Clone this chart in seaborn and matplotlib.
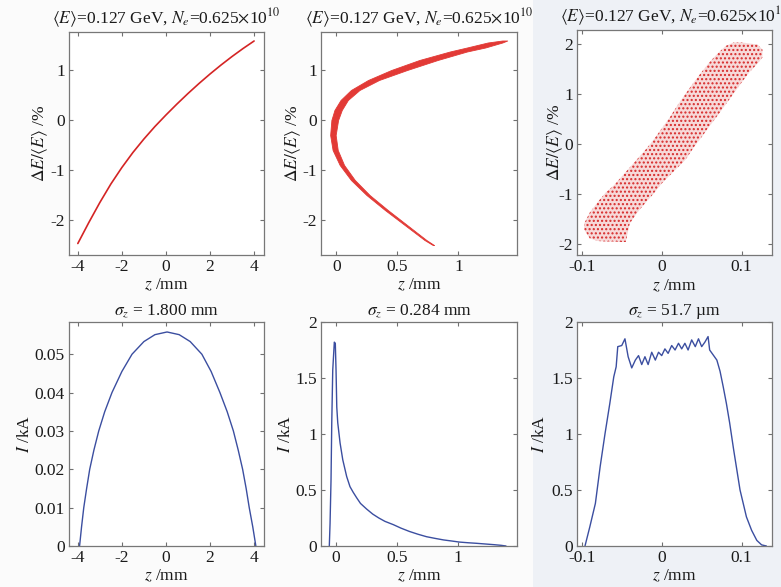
import numpy as np
import pandas as pd
import matplotlib
matplotlib.use("Agg")
import matplotlib.pyplot as plt
from matplotlib.patches import Rectangle
import seaborn as sns

# ---------------- data ----------------
# Panel 1: energy chirp before compression (thin line)
z1 = [-4.0, -3.5, -3.0, -2.5, -2.0, -1.5, -1.0, -0.5, 0.0, 0.5, 1.0, 1.5, 2.0, 2.5, 3.0, 3.5, 4.0]
dE1 = [-2.47, -2.05, -1.65, -1.28, -0.95, -0.65, -0.38, -0.13, 0.10, 0.32, 0.53, 0.73, 0.92, 1.10, 1.27, 1.43, 1.58]

# Panel 2: over-compressed C-shaped band (z edges for each energy level)
dE2 = [1.59, 1.55, 1.45, 1.37, 1.2, 1.0, 0.8, 0.6, 0.4, 0.2, 0.0, -0.3, -0.6, -0.9, -1.2, -1.5, -1.8, -2.1, -2.4, -2.5]
z2_lo = [1.36, 1.24, 1.07, 0.93, 0.68, 0.45, 0.26, 0.12, 0.035, -0.015, -0.04, -0.05, -0.03, 0.028, 0.12, 0.247, 0.398, 0.56, 0.722, 0.79]
z2_hi = [1.40, 1.36, 1.22, 1.07, 0.83, 0.58, 0.35, 0.19, 0.095, 0.045, 0.015, -0.005, 0.012, 0.064, 0.152, 0.273, 0.422, 0.58, 0.738, 0.80]

# Panel 3: compressed particle cloud (energy edges for each z)
z3 = [-0.097, -0.09, -0.08, -0.07, -0.06, -0.05, -0.045, -0.04, -0.03, -0.02, -0.01, 0.0, 0.01,
      0.02, 0.03, 0.04, 0.05, 0.06, 0.07, 0.08, 0.09, 0.10, 0.11, 0.12, 0.126]
dE3_hi = [-1.6, -1.38, -1.17, -0.98, -0.84, -0.66, -0.57, -0.48, -0.3, -0.12, 0.08, 0.3, 0.52,
          0.77, 1.0, 1.22, 1.43, 1.63, 1.8, 1.95, 2.02, 2.02, 2.0, 1.98, 1.88]
dE3_lo = [-1.72, -1.9, -1.95, -1.96, -1.96, -1.97, -1.97, -1.6, -1.37, -1.18, -1.0, -0.8, -0.64,
          -0.48, -0.32, -0.08, 0.13, 0.35, 0.56, 0.78, 1.0, 1.22, 1.43, 1.6, 1.72]

# Panel 4: current profile, sigma_z = 1.8 mm
z4 = [-3.92, -3.83, -3.73, -3.6, -3.46, -3.27, -3.05, -2.78, -2.45, -2.0, -1.54, -1.0, -0.5, 0.05,
      0.6, 1.1, 1.63, 2.05, 2.45, 2.78, 3.06, 3.28, 3.48, 3.64, 3.78, 3.94, 4.08]
I4 = [0.0, 0.005, 0.01, 0.015, 0.02, 0.025, 0.03, 0.035, 0.04, 0.0455, 0.05, 0.0533, 0.0551, 0.0558,
      0.0551, 0.0533, 0.05, 0.0455, 0.04, 0.035, 0.03, 0.025, 0.02, 0.015, 0.01, 0.005, 0.0]

# Panel 5: current profile, sigma_z = 0.284 mm
z5 = [-0.055, -0.049, -0.041, -0.035, -0.027, -0.014, -0.006, 0.0, 0.006, 0.014, 0.033, 0.055,
      0.087, 0.114, 0.14, 0.169, 0.2, 0.25, 0.3, 0.35, 0.4, 0.47, 0.53, 0.6, 0.67, 0.74, 0.81,
      0.88, 0.95, 1.01, 1.08, 1.15, 1.22, 1.29, 1.35, 1.39]
I5 = [0.0, 0.2, 0.59, 1.1, 1.57, 1.82, 1.81, 1.57, 1.24, 1.1, 0.92, 0.77, 0.62, 0.53, 0.48,
      0.43, 0.38, 0.33, 0.285, 0.25, 0.22, 0.19, 0.16, 0.13, 0.105, 0.083, 0.068, 0.054, 0.044,
      0.035, 0.029, 0.024, 0.018, 0.012, 0.006, 0.0]

# Panel 6: current profile, sigma_z = 51.7 um
z6 = [-0.096, -0.09, -0.083, -0.077, -0.071, -0.065, -0.060, -0.057, -0.055, -0.05, -0.046,
      -0.042, -0.0375, -0.033, -0.029, -0.025, -0.021, -0.017, -0.0125, -0.008, -0.004, 0.0,
      0.004, 0.008, 0.0125, 0.0167, 0.021, 0.025, 0.029, 0.033, 0.0375, 0.042, 0.046, 0.05,
      0.054, 0.058, 0.06, 0.065, 0.069, 0.073, 0.077, 0.081, 0.085, 0.09, 0.094, 0.098, 0.102,
      0.106, 0.1125, 0.119, 0.125, 0.131]
I6 = [0.0, 0.17, 0.38, 0.71, 1.0, 1.27, 1.51, 1.6, 1.78, 1.79, 1.85, 1.69, 1.59, 1.66, 1.7,
      1.62, 1.69, 1.62, 1.73, 1.66, 1.73, 1.7, 1.76, 1.72, 1.79, 1.75, 1.81, 1.76, 1.81, 1.75,
      1.84, 1.78, 1.85, 1.78, 1.82, 1.87, 1.75, 1.7, 1.66, 1.56, 1.42, 1.27, 1.1, 0.86, 0.68,
      0.5, 0.38, 0.26, 0.14, 0.05, 0.01, 0.0]

top_title = r"$\langle E\rangle$=0.127 GeV, $N_e$=0.625$\times$10$^{10}$"
bottom_titles = [r"$\sigma_z$ = 1.800 mm", r"$\sigma_z$ = 0.284 mm", r"$\sigma_z$ = 51.7 µm"]

# ---------------- style ----------------
sns.set_style("ticks")
plt.rcParams["font.family"] = ["Liberation Serif", "DejaVu Serif"]
plt.rcParams["mathtext.fontset"] = "stix"
plt.rcParams["hatch.linewidth"] = 1.0

FS = 12.5
W, H = 781, 587
fig = plt.figure(figsize=(W / 100, H / 100), dpi=100, facecolor="#fbfbfb")
fig.patches.append(Rectangle((533 / W, 0), 1 - 533 / W, 1, transform=fig.transFigure,
                             facecolor="#eef1f6", edgecolor="none", zorder=-10))


def make_ax(l, t, r, b):
    return fig.add_axes([l / W, 1 - b / H, (r - l) / W, (b - t) / H])


ax1 = make_ax(69, 32, 264, 255)
ax2 = make_ax(321, 32, 517, 255)
ax3 = make_ax(577, 30, 772, 255)
ax4 = make_ax(69, 322, 264, 546)
ax5 = make_ax(321, 322, 517, 546)
ax6 = make_ax(577, 322, 772, 546)

red = "#d42424"
blue = "#3b4ea0"

# Top row
sns.lineplot(x=z1, y=dE1, ax=ax1, color=red, linewidth=1.2, estimator=None)
ax2.fill_betweenx(dE2, z2_lo, z2_hi, facecolor="#e23a36", edgecolor="#e23a36", linewidth=0.6)
ax3.fill_between(z3, dE3_lo, dE3_hi, facecolor="#f7d9d9", edgecolor="#d62a2a",
                 linewidth=0, hatch="....")

# Bottom row
sns.lineplot(x=z4, y=I4, ax=ax4, color=blue, linewidth=1.0, estimator=None)
sns.lineplot(x=z5, y=I5, ax=ax5, color=blue, linewidth=1.0, estimator=None)
sns.lineplot(x=z6, y=I6, ax=ax6, color=blue, linewidth=1.0, estimator=None)

# limits & ticks
ax1.set_xlim(-4.4, 4.45); ax1.set_ylim(-2.7, 1.76)
ax1.set_xticks([-4, -2, 0, 2, 4]); ax1.set_xticklabels(["-4", "-2", "0", "2", "4"])
ax1.set_yticks([-2, -1, 0, 1]); ax1.set_yticklabels(["-2", "-1", "0", "1"])

ax2.set_xlim(-0.125, 1.48); ax2.set_ylim(-2.7, 1.76)
ax2.set_xticks([0, 0.5, 1]); ax2.set_xticklabels(["0", "0.5", "1"])
ax2.set_yticks([-2, -1, 0, 1]); ax2.set_yticklabels(["-2", "-1", "0", "1"])

ax3.set_xlim(-0.106, 0.138); ax3.set_ylim(-2.23, 2.27)
ax3.set_xticks([-0.1, 0, 0.1]); ax3.set_xticklabels(["-0.1", "0", "0.1"])
ax3.set_yticks([-2, -1, 0, 1, 2]); ax3.set_yticklabels(["-2", "-1", "0", "1", "2"])

ax4.set_xlim(-4.4, 4.45); ax4.set_ylim(0, 0.0584)
ax4.set_xticks([-4, -2, 0, 2, 4]); ax4.set_xticklabels(["-4", "-2", "0", "2", "4"])
ax4.set_yticks([0, 0.01, 0.02, 0.03, 0.04, 0.05])
ax4.set_yticklabels(["0", "0.01", "0.02", "0.03", "0.04", "0.05"])

ax5.set_xlim(-0.123, 1.48); ax5.set_ylim(0, 2)
ax5.set_xticks([0, 0.5, 1]); ax5.set_xticklabels(["0", "0.5", "1"])
ax5.set_yticks([0, 0.5, 1, 1.5, 2]); ax5.set_yticklabels(["0", "0.5", "1", "1.5", "2"])

ax6.set_xlim(-0.106, 0.138); ax6.set_ylim(0, 2)
ax6.set_xticks([-0.1, 0, 0.1]); ax6.set_xticklabels(["-0.1", "0", "0.1"])
ax6.set_yticks([0, 0.5, 1, 1.5, 2]); ax6.set_yticklabels(["0", "0.5", "1", "1.5", "2"])

ylab_top = r"$\Delta E/\langle E\rangle$ /%"
ylab_bot = r"$I$ /kA"
xlab = r"$z$ /mm"

for ax, yl, yx in [(ax1, ylab_top, -0.098), (ax2, ylab_top, -0.092), (ax3, ylab_top, -0.063),
                   (ax4, ylab_bot, -0.185), (ax5, ylab_bot, -0.138), (ax6, ylab_bot, -0.149)]:
    ax.set_facecolor("white")
    ax.tick_params(direction="in", top=True, right=True, length=3, width=0.8,
                   color="#707070", labelsize=FS, labelcolor="#1a1a1a", pad=3)
    for sp in ax.spines.values():
        sp.set_visible(True)
        sp.set_color("#777777")
        sp.set_linewidth(0.9)
    ax.set_ylabel(yl, fontsize=FS, color="#1a1a1a")
    ax.set_xlabel(xlab, fontsize=FS, color="#1a1a1a")
    ax.yaxis.set_label_coords(yx, 0.5)
    ax.xaxis.set_label_coords(0.5, -0.10)

for ax in (ax1, ax2, ax3):
    ax.set_title(top_title, fontsize=FS, pad=6, color="#1a1a1a")
for ax, t in zip((ax4, ax5, ax6), bottom_titles):
    ax.set_title(t, fontsize=FS, pad=5, color="#1a1a1a")

fig.savefig("out.png", dpi=100, facecolor=fig.get_facecolor())
